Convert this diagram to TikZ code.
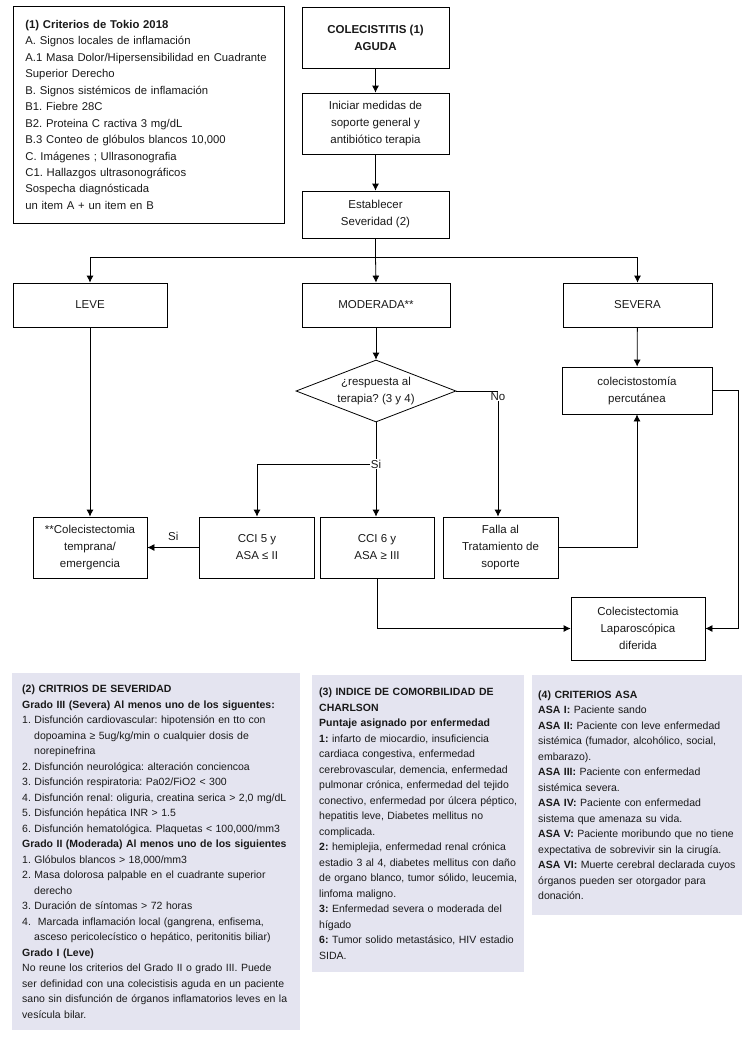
\documentclass[tikz,border=0pt]{standalone}
\usepackage{fontspec}
\setmainfont{Liberation Sans}
\usetikzlibrary{shapes.geometric,arrows.meta}
\definecolor{panelfill}{RGB}{228,228,240}
\definecolor{ink}{RGB}{25,25,25}
\newcommand{\sangria}{\hspace*{12pt}}
\frenchspacing

\begin{document}
\begin{tikzpicture}[x=1pt,y=-1pt]
\tikzset{every node/.style={text=ink}}
\tikzset{box/.style={draw, line width=0.8pt, align=center, inner sep=2pt, font=\fontsize{11.5}{17}\selectfont}}
\tikzset{flow/.style={line width=0.8pt, -{Latex[length=7pt,width=7pt]}}}
\tikzset{plain/.style={line width=0.8pt}}
\tikzset{panel/.style={fill=panelfill, align=left, anchor=north west, inner xsep=10pt, font=\fontsize{10.5}{15.5}\selectfont}}
\useasboundingbox (0,0) rectangle (749,1037);

\node[box, anchor=north west, align=left, text width=247pt, inner xsep=12pt, minimum height=217pt, font=\fontsize{11.3}{16.45}\selectfont] (tokio) at (13,6)
  {\textbf{(1) Criterios de Tokio 2018}\\
   A. Signos locales de inflamación\\
   A.1 Masa Dolor/Hipersensibilidad en Cuadrante\\
   Superior Derecho\\
   B. Signos sistémicos de inflamación\\
   B1. Fiebre 28C\\
   B2. Proteina C ractiva 3 mg/dL\\
   B.3 Conteo de glóbulos blancos 10,000\\
   C. Imágenes ; Ullrasonografia\\
   C1. Hallazgos ultrasonográficos\\
   Sospecha diagnósticada\\
   un item A + un item en B};

\node[box, minimum width=147pt, minimum height=61pt, font=\bfseries\fontsize{11.5}{17}\selectfont] (aguda) at (375.5,37.5) {COLECISTITIS (1)\\AGUDA};
\node[box, minimum width=147pt, minimum height=61pt] (soporte) at (375.5,123.5) {Iniciar medidas de\\soporte general y\\antibiótico terapia};
\node[box, minimum width=147pt, minimum height=47pt] (severidad) at (375.5,214.5) {Establecer\\Severidad (2)};
\node[box, minimum width=154pt, minimum height=44pt] (leve) at (90,305) {LEVE};
\node[box, minimum width=148pt, minimum height=44pt] (moderada) at (376,305) {MODERADA**};
\node[box, minimum width=149pt, minimum height=44pt] (severa) at (637.5,305) {SEVERA};
\node[box, shape=diamond, aspect=2.6, inner sep=0pt, minimum width=160pt, minimum height=62pt] (respuesta) at (376,391) {¿respuesta al\\terapia? (3 y 4)};
\node[box, minimum width=150pt, minimum height=47pt] (percutanea) at (637,390.5) {colecistostomía\\percutánea};
\node[box, minimum width=114pt, minimum height=61pt] (temprana) at (90,547.5) {**Colecistectomia\\temprana/\\emergencia};
\node[box, minimum width=115pt, minimum height=61pt] (ccicinco) at (257,547.5) {CCI 5 y\\ASA ≤ II};
\node[box, minimum width=114pt, minimum height=61pt] (ccisies) at (377,547.5) {CCI 6 y\\ASA ≥ III};
\node[box, minimum width=115pt, minimum height=61pt] (falla) at (500.5,547.5) {Falla al\\Tratamiento de\\soporte};
\node[box, minimum width=134pt, minimum height=63pt] (diferida) at (638,628.5) {Colecistectomia\\Laparoscópica\\diferida};

\node[inner sep=1pt, anchor=north, font=\fontsize{11.5}{14}\selectfont] (no) at (498,391) {No};
\node[inner sep=1pt, font=\fontsize{11.5}{14}\selectfont] (si) at (376,464) {Si};

\coordinate (rama) at (375.5,257);
\coordinate (borde) at (738,0);
\draw[flow] (aguda) -- (soporte);
\draw[flow] (soporte) -- (severidad);
\draw[plain] (severidad.south) -- (rama);
\draw[flow] (rama) -- (moderada.north);
\draw[flow] (rama) -| (leve.north);
\draw[flow] (rama) -| (severa.north);
\draw[flow] (moderada) -- (respuesta);
\draw[plain] (respuesta.east) -- (respuesta.east -| no.north);
\draw[flow] (no.south) -- (no.south |- falla.north);
\draw[plain] (respuesta.south) -- (si.north);
\draw[flow] (si.south) -- (si.south |- ccisies.north);
\draw[flow] (si.west) -| (ccicinco.north);
\draw[flow] (severa) -- (percutanea);
\draw[flow] (leve) -- (temprana);
\draw[flow] (ccicinco) -- node[above=3pt, font=\fontsize{11.5}{14}\selectfont] (sitemprana) {Si} (temprana);
\draw[flow] (falla.east) -| (percutanea.south);
\draw[flow] (percutanea.east) -| (borde |- diferida.east) -- (diferida.east);
\draw[flow] (ccisies.south) |- (diferida.west);

\node[panel, text width=268pt, minimum height=357pt] (criterios) at (12,673)
  {\textbf{(2) CRITRIOS DE SEVERIDAD}\\
   \textbf{Grado III (Severa) Al menos uno de los siguentes:}\\
   1. Disfunción cardiovascular: hipotensión en tto con\\
   \sangria dopoamina ≥ 5ug/kg/min o cualquier dosis de\\
   \sangria norepinefrina\\
   2. Disfunción neurológica: alteración conciencoa\\
   3. Disfunción respiratoria: Pa02/FiO2 < 300\\
   4. Disfunción renal: oliguria, creatina serica > 2,0 mg/dL\\
   5. Disfunción hepática INR > 1.5\\
   6. Disfunción hematológica. Plaquetas < 100,000/mm3\\
   \textbf{Grado II (Moderada) Al menos uno de los siguientes}\\
   1. Glóbulos blancos > 18,000/mm3\\
   2. Masa dolorosa palpable en el cuadrante superior\\
   \sangria derecho\\
   3. Duración de síntomas > 72 horas\\
   4. \ Marcada inflamación local (gangrena, enfisema,\\
   \sangria asceso pericolecístico o hepático, peritonitis biliar)\\
   \textbf{Grado I (Leve)}\\
   No reune los criterios del Grado II o grado III. Puede\\
   ser definidad con una colecistisis aguda en un paciente\\
   sano sin disfunción de órganos inflamatorios leves en la\\
   vesícula bilar.};

\node[panel, text width=198pt, inner xsep=7pt, minimum height=297pt] (charlson) at (312,675)
  {\textbf{(3) INDICE DE COMORBILIDAD DE}\\
   \textbf{CHARLSON}\\
   \textbf{Puntaje asignado por enfermedad}\\
   \textbf{1:} infarto de miocardio, insuficiencia\\
   cardiaca congestiva, enfermedad\\
   cerebrovascular, demencia, enfermedad\\
   pulmonar crónica, enfermedad del tejido\\
   conectivo, enfermedad por úlcera péptico,\\
   hepatitis leve, Diabetes mellitus no\\
   complicada.\\
   \textbf{2:} hemiplejia, enfermedad renal crónica\\
   estadio 3 al 4, diabetes mellitus con daño\\
   de organo blanco, tumor sólido, leucemia,\\
   linfoma maligno.\\
   \textbf{3:} Enfermedad severa o moderada del\\
   hígado\\
   \textbf{6:} Tumor solido metastásico, HIV estadio\\
   SIDA.};

\node[panel, text width=198pt, inner xsep=6pt, minimum height=240pt] (asa) at (532,675)
  {\textbf{(4) CRITERIOS ASA}\\
   \textbf{ASA I:} Paciente sando\\
   \textbf{ASA II:} Paciente con leve enfermedad\\
   sistémica (fumador, alcohólico, social,\\
   embarazo).\\
   \textbf{ASA III:} Paciente con enfermedad\\
   sistémica severa.\\
   \textbf{ASA IV:} Paciente con enfermedad\\
   sistema que amenaza su vida.\\
   \textbf{ASA V:} Paciente moribundo que no tiene\\
   expectativa de sobrevivir sin la cirugía.\\
   \textbf{ASA VI:} Muerte cerebral declarada cuyos\\
   órganos pueden ser otorgador para\\
   donación.};
\end{tikzpicture}
\end{document}
